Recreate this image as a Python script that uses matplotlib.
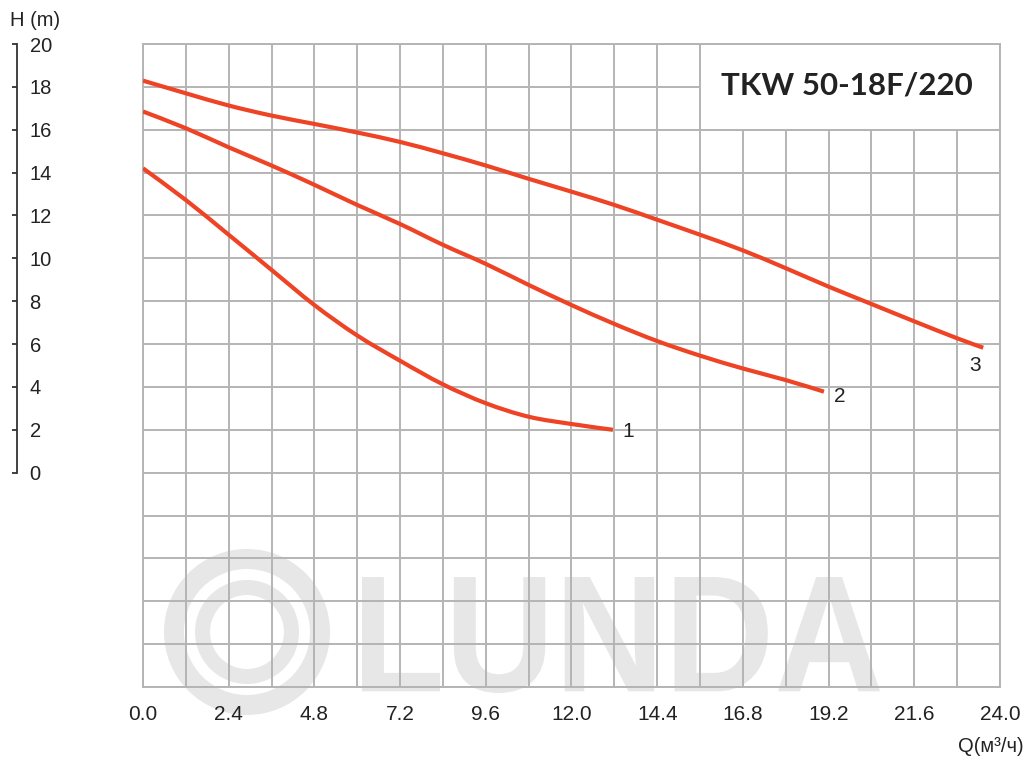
import numpy as np
import matplotlib
matplotlib.use("Agg")
import matplotlib.pyplot as plt
from matplotlib.patches import Rectangle, Circle, PathPatch
from matplotlib.path import Path
from matplotlib.textpath import TextPath
from matplotlib.font_manager import FontProperties
from matplotlib.transforms import Affine2D
from matplotlib.ticker import MultipleLocator

plt.rcParams['font.family'] = ['Liberation Sans', 'DejaVu Sans']

# ---- data ----
q1 = [0, 1.2, 2.4, 3.6, 4.8, 6.0, 7.2, 8.4, 9.6, 10.8, 12.0, 13.16]
h1 = [14.2, 12.72, 11.1, 9.46, 7.82, 6.4, 5.22, 4.12, 3.24, 2.61, 2.27, 2.0]

q2 = [0, 1.2, 2.4, 3.6, 4.8, 6.0, 7.2, 8.4, 9.6, 10.8, 12.0, 13.2, 14.4, 15.6, 16.8, 18.0, 19.07]
h2 = [16.85, 16.07, 15.18, 14.33, 13.43, 12.49, 11.6, 10.63, 9.74, 8.76, 7.82, 6.94, 6.14, 5.46, 4.86, 4.32, 3.78]

q3 = [0, 1.2, 2.4, 3.6, 4.8, 6.0, 7.2, 8.4, 9.6, 10.8, 12.0, 13.2, 14.4, 15.6, 16.8, 18.0, 19.2, 20.4, 21.6, 22.8, 23.53]
h3 = [18.29, 17.7, 17.13, 16.66, 16.27, 15.87, 15.43, 14.9, 14.33, 13.71, 13.11, 12.49, 11.8, 11.1, 10.37, 9.54, 8.68, 7.87, 7.06, 6.27, 5.83]

curve_names = ['1', '2', '3']
y_ticks = list(range(0, 21, 2))
title = "TKW 50-18F/220"

W, H = 1029, 763
fig = plt.figure(figsize=(W / 100, H / 100), dpi=100)
fig.patch.set_facecolor('white')

L, R, T, B = 143, 1000, 44, 687
ax = fig.add_axes([L / W, (H - B) / H, (R - L) / W, (B - T) / H])
ax.set_xlim(0, 24)
ax.set_ylim(-10, 20)

gcol = '#b4b4b4'
ax.xaxis.set_major_locator(MultipleLocator(2.4))
ax.xaxis.set_minor_locator(MultipleLocator(1.2))
ax.xaxis.set_major_formatter(matplotlib.ticker.FormatStrFormatter('%.1f'))
ax.yaxis.set_major_locator(MultipleLocator(2))
ax.set_yticklabels([])
ax.tick_params(axis='x', which='both', length=0, pad=13, labelsize=15, labelcolor='#222222')
ax.tick_params(axis='y', length=0, labelleft=False)
ax.grid(True, which='both', color=gcol, linewidth=1.4)
ax.set_axisbelow(True)
for s in ax.spines.values():
    s.set_color(gcol)
    s.set_linewidth(1.4)

# watermark (pixel coordinates, drawn under grid)
wm = '#e7e7e7'
cx, cy = 247, 632
for r_out, r_in in [(83, 63), (52, 37)]:
    rmid = (r_out + r_in) / 2
    circ = Circle((cx, H - cy), rmid, transform=None, fill=False, edgecolor=wm,
                  linewidth=(r_out - r_in) * 0.72, zorder=0.2, clip_on=False)
    ax.add_artist(circ)
tp = TextPath((0, 0), 'LUNDA', size=1, prop=FontProperties(family='Liberation Sans', weight='bold'))
ext = tp.get_extents()
x0, x1, ytop, ybot = 362, 880, 577, 693
sx = (x1 - x0) / ext.width
sy = (ybot - ytop) / ext.height
tr = Affine2D().translate(-ext.x0, -ext.y0).scale(sx, sy).translate(x0, H - ybot)
wpatch = PathPatch(tr.transform_path(tp), facecolor=wm, edgecolor='none',
                   transform=None, zorder=0.2, clip_on=False)
ax.add_artist(wpatch)

# smooth curves through the read points (Catmull-Rom -> cubic Bezier)
def smooth_path(xs, ys):
    p = np.column_stack([xs, ys]).astype(float)
    verts = [p[0]]
    codes = [Path.MOVETO]
    n = len(p)
    for i in range(n - 1):
        p0 = p[i - 1] if i > 0 else p[i]
        p1, p2 = p[i], p[i + 1]
        p3 = p[i + 2] if i + 2 < n else p[i + 1]
        c1 = p1 + (p2 - p0) / 6
        c2 = p2 - (p3 - p1) / 6
        verts += [c1, c2, p2]
        codes += [Path.CURVE4] * 3
    return Path(verts, codes)

red = '#ee4325'
for q, h in [(q1, h1), (q2, h2), (q3, h3)]:
    ax.add_patch(PathPatch(smooth_path(q, h), facecolor='none', edgecolor=red,
                           linewidth=3.0, capstyle='butt', zorder=3))

offsets = [(15, -2), (16, -5), (-8, -18)]
for (q, h), name, off in zip([(q1, h1), (q2, h2), (q3, h3)], curve_names, offsets):
    ax.annotate(name, (q[-1], h[-1]), xytext=(off[0] * 0.72, off[1] * 0.72),
                textcoords='offset points', ha='center', va='center',
                fontsize=15, color='#222222', zorder=4)

# title box
ax.add_patch(Rectangle((15.6, 16), 8.4, 4, facecolor='white', edgecolor=gcol,
                       linewidth=1.4, zorder=2))
ax.text(19.72, 18.05, title, ha='center', va='center', fontsize=22.5,
        fontweight='bold', family='Lato', color='#222222', zorder=4)

# left H axis
ax2 = fig.add_axes([17 / W, (H - B) / H, 0.0001, (B - T) / H])
ax2.set_ylim(-10, 20)
ax2.set_xticks([])
ax2.patch.set_visible(False)
for k in ['top', 'right', 'bottom']:
    ax2.spines[k].set_visible(False)
ax2.spines['left'].set_bounds(0, 20)
ax2.spines['left'].set_color('#333333')
ax2.spines['left'].set_linewidth(1.3)
ax2.set_yticks(y_ticks)
ax2.set_yticklabels([str(v) for v in y_ticks])
ax2.tick_params(axis='y', direction='out', length=3.5, width=1.3, color='#333333',
                left=True, right=False, labelleft=False, labelright=True,
                pad=5.5, labelsize=14.5, labelcolor='#222222')

fig.text(10 / W, 1 - 21 / H, 'H (m)', ha='left', va='center', fontsize=14.5, color='#222222')
fig.text(1024 / W, 1 - 747 / H, 'Q(м³/ч)', ha='right', va='center', fontsize=14.5, color='#222222')

fig.savefig('out.png', dpi=100)
